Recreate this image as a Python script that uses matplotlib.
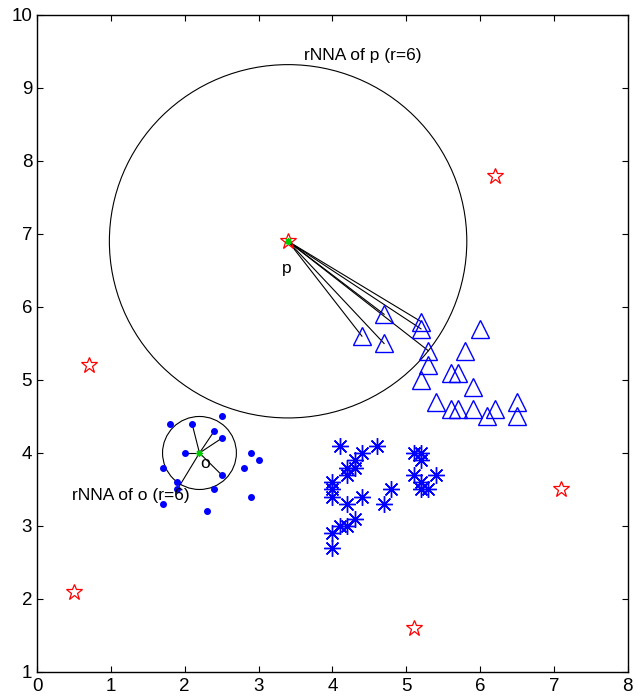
import matplotlib
matplotlib.use('Agg')
import matplotlib.pyplot as plt
import matplotlib.patches as mpatches

plt.rcParams['font.family'] = ['Liberation Sans', 'DejaVu Sans']

# outliers (red pentagrams)
star_x = [3.4, 6.2, 0.7, 0.5, 5.1, 7.1]
star_y = [6.9, 7.8, 5.2, 2.1, 1.6, 3.5]

# dense cluster around o
dot_x = [1.8, 2.1, 2.5, 2.4, 2.5, 2.0, 2.9, 3.0, 2.8, 1.7, 2.5, 1.9, 1.9, 2.4, 2.9, 1.7, 2.3]
dot_y = [4.4, 4.4, 4.5, 4.3, 4.2, 4.0, 4.0, 3.9, 3.8, 3.8, 3.7, 3.6, 3.5, 3.5, 3.4, 3.3, 3.2]

# asterisk cluster
ast_x = [4.1, 4.6, 4.4, 4.3, 4.2, 4.3, 4.2, 4.0, 4.0, 4.0, 4.2, 4.4, 4.8, 4.7, 4.3,
         4.2, 4.1, 4.0, 4.0, 5.1, 5.2, 5.2, 5.1, 5.4, 5.2, 5.2, 5.3]
ast_y = [4.1, 4.1, 4.0, 3.9, 3.8, 3.8, 3.7, 3.6, 3.5, 3.4, 3.3, 3.4, 3.5, 3.3, 3.1,
         3.0, 3.0, 2.9, 2.7, 4.0, 4.0, 3.9, 3.7, 3.7, 3.6, 3.5, 3.5]

# triangle cluster
tri_x = [4.7, 4.4, 4.7, 5.2, 5.2, 5.3, 5.3, 5.2, 6.0, 5.8, 5.6, 5.7, 5.9, 5.4, 5.6,
         5.7, 5.9, 6.1, 6.2, 6.5, 6.5]
tri_y = [5.9, 5.6, 5.5, 5.8, 5.7, 5.4, 5.2, 5.0, 5.7, 5.4, 5.1, 5.1, 4.9, 4.7, 4.6,
         4.6, 4.6, 4.5, 4.6, 4.7, 4.5]

# the two query points and their 6 nearest neighbours
p = (3.4, 6.9)
p_nn_x = [4.7, 4.4, 4.7, 5.2, 5.2, 5.3]
p_nn_y = [5.9, 5.6, 5.5, 5.8, 5.7, 5.4]
p_radius = 2.42

o = (2.2, 4.0)
o_nn_x = [2.1, 2.4, 2.5, 2.0, 2.5, 1.9]
o_nn_y = [4.4, 4.3, 4.2, 4.0, 3.7, 3.5]
o_radius = 0.5

fig = plt.figure(figsize=(6.38, 6.97), dpi=100)
ax = fig.add_axes([0.058, 0.0359, 0.926, 0.9426])

# neighbour lines
for nx, ny in zip(p_nn_x, p_nn_y):
    ax.plot([p[0], nx], [p[1], ny], color='k', linewidth=0.8)
for nx, ny in zip(o_nn_x, o_nn_y):
    ax.plot([o[0], nx], [o[1], ny], color='k', linewidth=0.8)

ax.add_patch(mpatches.Circle(p, p_radius, fill=False, edgecolor='k', linewidth=0.8))
ax.add_patch(mpatches.Circle(o, o_radius, fill=False, edgecolor='k', linewidth=0.8))

ax.plot(dot_x, dot_y, linestyle='none', marker='.', color='#0000ff', markersize=8)
ax.plot(ast_x, ast_y, linestyle='none', marker=(8, 2, 0), color='#0000ff',
        markersize=12, markeredgewidth=1.0)
ax.plot(tri_x, tri_y, linestyle='none', marker='^', markerfacecolor='none',
        markeredgecolor='#0000ff', markersize=12.5, markeredgewidth=1.0)
ax.plot(star_x, star_y, linestyle='none', marker='*', markerfacecolor='none',
        markeredgecolor='#ff0000', markersize=12, markeredgewidth=0.9)
ax.plot([p[0], o[0]], [p[1], o[1]], linestyle='none', marker=(8, 2, 0),
        color='#00cc00', markersize=5, markeredgewidth=0.9)

ax.text(3.62, 9.45, 'rNNA of p (r=6)', fontsize=12.5, va='center', ha='left')
ax.text(3.38, 6.53, 'p', fontsize=12.5, va='center', ha='center')
ax.text(2.27, 3.85, 'o', fontsize=12.5, va='center', ha='center')
ax.text(0.48, 3.42, 'rNNA of o (r=6)', fontsize=12.5, va='center', ha='left')

ax.set_xlim(0, 8)
ax.set_ylim(1, 10)
ax.set_xticks(range(0, 9))
ax.set_yticks(range(1, 11))
ax.tick_params(direction='in', top=True, right=True, labelsize=13.5, length=4)
ax.tick_params(axis='x', pad=4.5)
for s in ax.spines.values():
    s.set_linewidth(1.0)

fig.savefig('out.png', dpi=100)
